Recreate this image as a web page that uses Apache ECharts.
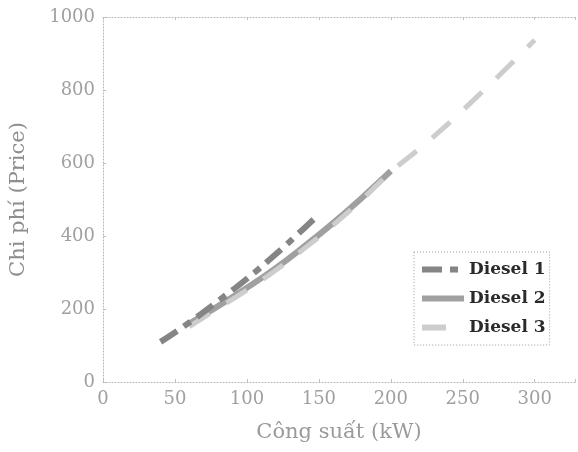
<!DOCTYPE html>
<html><head><meta charset="utf-8">
<script src="https://cdn.jsdelivr.net/npm/echarts@6/dist/echarts.min.js"></script>
<style>html,body{margin:0;padding:0;background:#fff}#c{width:578px;height:452px}</style>
</head><body><div id="c"></div>
<script>
const seriesNames = ['Diesel 1', 'Diesel 2', 'Diesel 3'];
const diesel1X = [40, 60, 80, 100, 120, 140, 150];
const diesel1Y = [110, 163, 222, 283, 350, 422, 459];
const diesel2X = [60, 80, 100, 120, 140, 160, 180, 200];
const diesel2Y = [160, 208, 258, 312, 372, 436, 505, 578];
const diesel3X = [60, 80, 100, 120, 140, 160, 180, 200, 220, 240, 260, 280, 300];
const diesel3Y = [152, 202, 252, 306, 366, 430, 500, 575, 640, 708, 782, 858, 937];
const xTickLabels = ['0', '50', '100', '150', '200', '250', '300'];
const yTickLabels = ['0', '200', '400', '600', '800', '1000'];
const xTitle = 'Công suất (kW)';
const yTitle = 'Chi phí (Price)';

const pairs = (xs, ys) => xs.map((x, i) => [x, ys[i]]);
const FONT = 'DejaVu Serif';
const axisLineStyle = { color: '#b4b4b4', width: 1, type: [1, 2] };

const chart = echarts.init(document.getElementById('c'), null, { renderer: 'canvas' });
chart.setOption({
  animation: false,
  backgroundColor: '#ffffff',
  grid: { left: 103, top: 17, bottom: 70, right: 0, containLabel: false },
  legend: {
    orient: 'vertical',
    left: 414, top: 252,
    padding: [9, 4, 9, 5],
    itemGap: 12,
    itemWidth: 42, itemHeight: 14,
    backgroundColor: '#ffffff',
    borderColor: '#9a9a9a', borderWidth: 1, borderType: [1, 2],
    itemStyle: { opacity: 0 },
    lineStyle: { width: 6 },
    textStyle: { fontFamily: FONT, fontSize: 17, fontWeight: 'bold', color: '#2a2a2a' },
    data: seriesNames
  },
  xAxis: [{
    type: 'value', min: 0, max: 328, interval: 50,
    name: xTitle, nameLocation: 'middle', nameGap: 40,
    nameTextStyle: { fontFamily: FONT, fontSize: 21, color: '#9a9a9a' },
    axisLine: { show: true, lineStyle: axisLineStyle },
    axisTick: { show: true, inside: true, length: 3, lineStyle: { color: '#c0c0c0' } },
    axisLabel: { fontFamily: FONT, fontSize: 18, color: '#a0a0a0', margin: 8,
      formatter: v => xTickLabels.includes(String(v)) ? String(v) : '' },
    splitLine: { show: false }
  }, {
    type: 'value', position: 'top', min: 0, max: 328, interval: 50,
    axisLine: { show: true, lineStyle: axisLineStyle },
    axisTick: { show: true, inside: true, length: 3, lineStyle: { color: '#c0c0c0' } },
    axisLabel: { show: false }, splitLine: { show: false }
  }],
  yAxis: [{
    type: 'value', min: 0, max: 1000, interval: 200,
    name: yTitle, nameLocation: 'middle', nameGap: 74, nameRotate: 90,
    nameTextStyle: { fontFamily: FONT, fontSize: 21, color: '#8e8e8e' },
    axisLine: { show: true, lineStyle: axisLineStyle },
    axisTick: { show: true, inside: true, length: 3, lineStyle: { color: '#c0c0c0' } },
    axisLabel: { fontFamily: FONT, fontSize: 18, color: '#a0a0a0', margin: 8,
      formatter: v => yTickLabels.includes(String(v)) ? String(v) : '' },
    splitLine: { show: false }
  }],
  series: [
    { name: seriesNames[0], type: 'line', smooth: true, symbol: 'none', z: 3,
      data: pairs(diesel1X, diesel1Y),
      itemStyle: { color: '#858585' },
      lineStyle: { color: '#858585', width: 6, type: [20, 8, 8, 8] } },
    { name: seriesNames[1], type: 'line', smooth: true, symbol: 'none', z: 2,
      data: pairs(diesel2X, diesel2Y),
      itemStyle: { color: '#a0a0a0' },
      lineStyle: { color: '#a0a0a0', width: 6, type: 'solid' } },
    { name: seriesNames[2], type: 'line', smooth: true, symbol: 'none', z: 2,
      data: pairs(diesel3X, diesel3Y),
      itemStyle: { color: '#cdcdcd' },
      lineStyle: { color: '#cdcdcd', width: 5, type: [24, 20] } }
  ]
});
</script>
</body></html>
